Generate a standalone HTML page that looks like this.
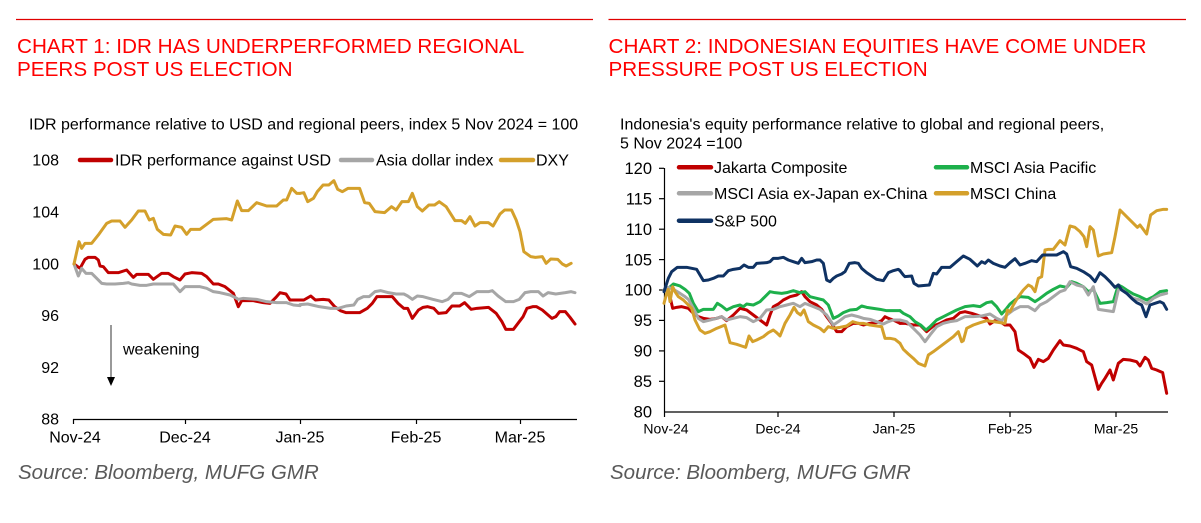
<!DOCTYPE html>
<html>
<head>
<meta charset="utf-8">
<style>
html,body{margin:0;padding:0;background:#fff;}
svg{display:block;}
text{font-family:"Liberation Sans",Arial,sans-serif;}
</style>
</head>
<body>
<svg width="1201" height="523" viewBox="0 0 1201 523" xmlns="http://www.w3.org/2000/svg">
<rect x="0" y="0" width="1201" height="523" fill="#fff"/>

<!-- ============ CHART 1 ============ -->
<line x1="16" y1="19.5" x2="593" y2="19.5" stroke="#E00000" stroke-width="1.3"/>
<text x="17" y="53" font-size="20.7" fill="#FF0000">CHART 1: IDR HAS UNDERPERFORMED REGIONAL</text>
<text x="17" y="76" font-size="20.7" fill="#FF0000">PEERS POST US ELECTION</text>
<text x="29" y="129.3" font-size="16" fill="#000">IDR performance relative to USD and regional peers, index 5 Nov 2024 = 100</text>

<!-- y labels -->
<g font-size="16" fill="#000" text-anchor="end">
<text x="59" y="165.7">108</text>
<text x="59" y="217.5">104</text>
<text x="59" y="269.3">100</text>
<text x="59" y="321.1">96</text>
<text x="59" y="372.9">92</text>
<text x="59" y="424.7">88</text>
</g>

<!-- legend -->
<g stroke-width="4.5" stroke-linecap="round">
<line x1="80" y1="160" x2="111" y2="160" stroke="#C00000"/>
<line x1="341" y1="160" x2="372" y2="160" stroke="#A6A6A6"/>
<line x1="501" y1="160" x2="533" y2="160" stroke="#D4A02B"/>
</g>
<g font-size="16" fill="#000">
<text x="115" y="165.7">IDR performance against USD</text>
<text x="376" y="165.7">Asia dollar index</text>
<text x="536" y="165.7">DXY</text>
</g>

<!-- x axis -->
<line x1="73" y1="419.5" x2="577" y2="419.5" stroke="#000" stroke-width="1.2"/>
<g stroke="#000" stroke-width="1.2">
<line x1="73.5" y1="419" x2="73.5" y2="424"/>
<line x1="185.5" y1="419" x2="185.5" y2="424"/>
<line x1="300.5" y1="419" x2="300.5" y2="424"/>
<line x1="416.5" y1="419" x2="416.5" y2="424"/>
<line x1="520.5" y1="419" x2="520.5" y2="424"/>
</g>
<g font-size="16" fill="#000" text-anchor="middle">
<text x="75" y="442.7">Nov-24</text>
<text x="185" y="442.7">Dec-24</text>
<text x="300" y="442.7">Jan-25</text>
<text x="416" y="442.7">Feb-25</text>
<text x="520" y="442.7">Mar-25</text>
</g>

<!-- weakening arrow -->
<line x1="111" y1="325" x2="111" y2="378" stroke="#333" stroke-width="1"/>
<polygon points="107,377 115,377 111,386" fill="#000"/>
<text x="123" y="354.5" font-size="16" fill="#000">weakening</text>

<!-- series chart 1 part A (x<300) -->
<g transform="translate(0,140) scale(0.33333)" fill="none" stroke-width="3" stroke-linejoin="round" stroke-linecap="round">
<polyline vector-effect="non-scaling-stroke" stroke="#C00000" points="222,372 240,385 255,358 265,352 285,352 295,360 300,378 310,380 325,398 355,398 380,390 400,412 410,403 445,403 460,418 485,400 505,400 520,410 540,420 555,402 575,398 605,400 620,410 640,432 655,432 675,440 700,460 715,500 725,482 760,482 790,488 810,490 828,472 840,458 858,462 870,480 900,480"/>
<polyline vector-effect="non-scaling-stroke" stroke="#A6A6A6" points="222,372 235,408 245,385 258,400 275,400 290,415 305,430 320,432 345,432 370,430 385,428 395,432 420,436 440,436 460,432 520,432 540,455 555,440 600,440 620,445 640,455 660,458 690,465 705,472 715,478 730,475 770,478 800,485 830,488 860,488 880,495 900,497"/>
<polyline vector-effect="non-scaling-stroke" stroke="#D4A02B" points="222,372 237,305 245,325 255,310 275,310 295,285 320,250 335,243 360,243 375,262 395,240 415,213 435,213 448,240 460,235 472,268 490,283 512,285 525,258 545,262 560,283 572,268 600,268 640,238 680,236 695,240 712,183 725,212 745,212 770,188 800,198 830,198 850,180 860,180 875,145 890,160 900,160"/>
</g>
<!-- series chart 1 part B (x>=300) -->
<g transform="translate(0,140) scale(0.38462,0.33333)" fill="none" stroke-width="3" stroke-linejoin="round" stroke-linecap="round">
<polyline vector-effect="non-scaling-stroke" stroke="#C00000" points="780,480 790,480 808,468 820,480 840,478 855,480 870,500 885,512 900,518 935,518 955,505 968,490 980,470 1020,470 1035,490 1050,505 1060,505 1072,535 1088,510 1100,502 1112,500 1128,505 1140,520 1160,518 1175,498 1195,498 1208,488 1225,508 1240,505 1270,502 1290,520 1305,545 1315,568 1335,568 1350,545 1360,530 1370,505 1385,500 1395,500 1410,510 1435,535 1445,530 1455,515 1470,515 1482,532 1495,552"/>
<polyline vector-effect="non-scaling-stroke" stroke="#A6A6A6" points="780,494 800,492 830,500 860,505 880,505 900,498 920,495 930,478 945,470 960,470 975,455 990,452 1010,458 1030,462 1050,462 1060,468 1072,478 1085,468 1100,470 1125,478 1150,485 1165,478 1180,460 1200,460 1220,470 1240,455 1270,455 1280,452 1295,468 1315,485 1335,485 1350,478 1365,458 1380,455 1400,455 1412,468 1425,458 1445,462 1470,458 1485,455 1495,458"/>
<polyline vector-effect="non-scaling-stroke" stroke="#D4A02B" points="780,160 790,158 800,185 815,175 825,155 840,135 855,135 868,122 878,148 890,155 905,145 935,145 948,188 960,190 975,215 1000,218 1018,200 1030,210 1045,185 1062,185 1072,160 1085,200 1098,213 1115,195 1130,195 1142,185 1160,200 1183,242 1200,242 1210,250 1222,230 1235,258 1248,248 1270,248 1282,258 1300,222 1312,210 1330,210 1342,240 1352,275 1362,335 1380,350 1392,352 1410,350 1420,370 1432,357 1450,358 1462,372 1472,378 1485,370"/>
</g>

<text x="18" y="479" font-size="20.5" font-style="italic" fill="#595959">Source: Bloomberg, MUFG GMR</text>

<!-- ============ CHART 2 ============ -->
<line x1="608.5" y1="19.5" x2="1186" y2="19.5" stroke="#E00000" stroke-width="1.3"/>
<text x="608.5" y="53" font-size="20.7" fill="#FF0000">CHART 2: INDONESIAN EQUITIES HAVE COME UNDER</text>
<text x="608.5" y="76" font-size="20.7" fill="#FF0000">PRESSURE POST US ELECTION</text>
<text x="620" y="129.7" font-size="16" fill="#000">Indonesia's equity performance relative to global and regional peers,</text>
<text x="620" y="148.4" font-size="16" fill="#000">5 Nov 2024 =100</text>

<!-- y axis -->
<line x1="664.5" y1="168" x2="664.5" y2="412" stroke="#000" stroke-width="1.2"/>
<g stroke="#000" stroke-width="1.2">
<line x1="659" y1="168.3" x2="664" y2="168.3"/>
<line x1="659" y1="198.7" x2="664" y2="198.7"/>
<line x1="659" y1="229.2" x2="664" y2="229.2"/>
<line x1="659" y1="259.6" x2="664" y2="259.6"/>
<line x1="659" y1="290" x2="664" y2="290"/>
<line x1="659" y1="320.4" x2="664" y2="320.4"/>
<line x1="659" y1="350.9" x2="664" y2="350.9"/>
<line x1="659" y1="381.3" x2="664" y2="381.3"/>
</g>
<g font-size="16.5" fill="#000" text-anchor="end">
<text x="652" y="174">120</text>
<text x="652" y="204.4">115</text>
<text x="652" y="234.9">110</text>
<text x="652" y="265.3">105</text>
<text x="652" y="295.7">100</text>
<text x="652" y="326.1">95</text>
<text x="652" y="356.6">90</text>
<text x="652" y="387">85</text>
<text x="652" y="417.4">80</text>
</g>

<!-- x axis -->
<line x1="664" y1="412" x2="1168" y2="412" stroke="#000" stroke-width="1.2"/>
<g stroke="#000" stroke-width="1.2">
<line x1="664.5" y1="412" x2="664.5" y2="417"/>
<line x1="778" y1="412" x2="778" y2="417"/>
<line x1="894" y1="412" x2="894" y2="417"/>
<line x1="1010" y1="412" x2="1010" y2="417"/>
<line x1="1116" y1="412" x2="1116" y2="417"/>
</g>
<g font-size="14" fill="#000" text-anchor="middle">
<text x="666" y="433.3">Nov-24</text>
<text x="778" y="433.3">Dec-24</text>
<text x="894" y="433.3">Jan-25</text>
<text x="1010" y="433.3">Feb-25</text>
<text x="1116" y="433.3">Mar-25</text>
</g>

<!-- series chart 2 part C -->
<g transform="translate(600,150) scale(0.33333)" fill="none" stroke-width="3" stroke-linejoin="round" stroke-linecap="round">
<polyline vector-effect="non-scaling-stroke" stroke="#C00000" points="192,420 200,420 210,440 218,475 230,472 245,470 265,475 280,490 295,500 310,505 330,508 350,505 365,500 380,512 400,495 420,475 440,480 460,495 480,510 500,525 510,495 520,470 535,462 550,450 570,440 590,435 605,425 615,440 630,455 650,465 665,478 680,500 695,520 710,545 725,545 740,530 760,520 775,520 790,525 810,520 830,518 845,512 855,500 865,505 880,510 900,520"/>
<polyline vector-effect="non-scaling-stroke" stroke="#1DB04B" points="192,420 205,415 220,402 240,408 255,418 268,430 280,460 295,485 310,478 340,478 352,460 365,468 380,480 400,470 420,465 430,470 440,462 460,465 480,455 495,440 510,425 525,428 545,430 560,428 580,422 600,428 615,425 630,440 650,445 670,450 685,465 700,505 715,498 730,488 750,480 770,478 785,468 800,472 820,475 840,478 860,482 900,482"/>
<polyline vector-effect="non-scaling-stroke" stroke="#A6A6A6" points="192,420 205,412 220,418 240,430 255,440 265,448 280,475 295,505 310,515 330,510 350,505 365,500 380,510 400,505 420,500 440,503 460,515 480,505 500,480 520,478 540,470 560,465 580,460 600,470 615,460 640,470 660,478 680,495 700,525 715,515 735,500 755,495 775,500 790,505 810,508 830,515 850,522 865,515 880,510 900,510"/>
<polyline vector-effect="non-scaling-stroke" stroke="#D4A02B" points="192,460 200,430 205,418 210,455 218,410 225,425 235,440 250,450 265,465 275,475 285,510 300,540 315,550 330,545 350,535 375,525 390,578 410,583 425,588 437,592 447,558 458,575 470,570 490,560 505,548 520,540 530,548 540,558 555,520 570,495 582,472 592,488 602,495 612,480 625,515 640,525 660,535 672,545 685,530 700,535 720,532 740,528 758,515 775,520 790,520 810,525 830,528 845,530 855,565 870,565 885,568 900,580"/>
<polyline vector-effect="non-scaling-stroke" stroke="#0F3263" points="192,425 205,385 215,365 232,352 260,352 275,355 290,358 300,375 310,392 325,390 340,385 355,378 370,378 385,362 400,358 420,355 432,345 445,352 460,352 470,340 500,338 510,335 520,325 535,325 550,322 565,330 580,335 595,340 605,325 615,338 635,335 650,330 660,330 670,340 680,390 690,395 700,385 710,378 725,372 735,365 748,340 765,338 775,340 785,355 800,368 815,378 830,388 850,392 865,368 880,362 895,358 900,362"/>
</g>
<!-- series chart 2 part D -->
<g transform="translate(900,150) scale(0.33333)" fill="none" stroke-width="3" stroke-linejoin="round" stroke-linecap="round">
<polyline vector-effect="non-scaling-stroke" stroke="#C00000" points="0,520 15,520 40,525 60,525 80,545 100,528 120,520 140,510 160,505 180,488 195,485 215,490 240,498 260,505 270,522 285,512 300,515 315,525 330,525 345,545 355,600 370,610 390,625 402,652 415,628 430,635 445,625 460,600 480,572 490,585 510,588 530,595 550,605 560,635 575,645 595,718 605,700 615,685 630,660 640,690 655,640 670,628 690,630 710,635 720,648 735,622 745,630 755,655 770,660 788,668 800,730"/>
<polyline vector-effect="non-scaling-stroke" stroke="#1DB04B" points="0,482 10,490 30,500 45,515 62,525 78,540 90,530 110,510 130,500 150,490 170,480 195,470 220,467 240,470 260,458 275,455 290,470 305,492 320,475 330,462 345,450 360,440 385,442 405,455 420,445 440,430 460,418 480,408 500,412 515,395 530,400 550,410 565,425 580,418 600,460 620,458 640,455 655,405 665,410 680,420 700,432 720,440 740,450 760,440 780,425 800,422"/>
<polyline vector-effect="non-scaling-stroke" stroke="#A6A6A6" points="0,510 20,515 40,535 60,555 75,575 90,555 110,530 130,520 150,515 170,512 195,500 220,500 245,498 270,492 290,505 305,512 320,495 340,480 360,470 385,470 405,482 420,465 440,455 460,440 480,425 495,420 510,395 530,405 550,410 565,435 580,410 595,478 620,482 640,485 655,420 665,418 680,430 700,445 720,450 740,462 760,445 780,435 800,430"/>
<polyline vector-effect="non-scaling-stroke" stroke="#D4A02B" points="0,580 10,598 25,612 40,625 55,640 75,648 85,615 100,605 120,590 140,575 160,560 175,545 185,575 190,572 200,535 220,525 240,518 260,512 280,515 300,518 315,520 322,480 330,485 340,465 355,440 370,420 385,405 395,410 405,425 415,385 425,380 435,300 445,298 460,298 480,272 495,285 510,228 525,232 540,245 552,260 560,290 570,230 580,240 595,318 610,312 635,308 645,260 660,180 680,200 700,220 712,232 720,225 740,252 752,195 770,182 790,178 800,178"/>
<polyline vector-effect="non-scaling-stroke" stroke="#0F3263" points="0,362 10,375 15,380 35,378 42,400 55,408 75,406 88,405 100,370 110,372 125,352 150,352 170,335 190,318 210,328 232,348 245,335 255,340 265,330 280,340 300,348 315,352 330,338 345,326 360,345 375,340 395,332 410,335 428,315 445,315 470,315 490,305 500,312 512,350 530,355 550,365 570,378 585,395 600,368 615,380 630,395 645,412 655,405 665,420 680,430 695,445 710,458 725,465 738,500 750,465 765,460 780,455 790,460 800,478"/>
</g>

<!-- legend chart 2 -->
<g stroke-width="4.5" stroke-linecap="round">
<line x1="679" y1="167.3" x2="711" y2="167.3" stroke="#C00000"/>
<line x1="679" y1="193.3" x2="711" y2="193.3" stroke="#A6A6A6"/>
<line x1="679" y1="220.7" x2="711" y2="220.7" stroke="#0F3263"/>
<line x1="936" y1="167.3" x2="967" y2="167.3" stroke="#1DB04B"/>
<line x1="936" y1="193.3" x2="967" y2="193.3" stroke="#D4A02B"/>
</g>
<g font-size="16" fill="#000">
<text x="714" y="173">Jakarta Composite</text>
<text x="714" y="199">MSCI Asia ex-Japan ex-China</text>
<text x="714" y="226.4">S&amp;P 500</text>
<text x="970" y="173">MSCI Asia Pacific</text>
<text x="970" y="199">MSCI China</text>
</g>

<text x="610" y="479" font-size="20.5" font-style="italic" fill="#595959">Source: Bloomberg, MUFG GMR</text>
</svg>
</body>
</html>
